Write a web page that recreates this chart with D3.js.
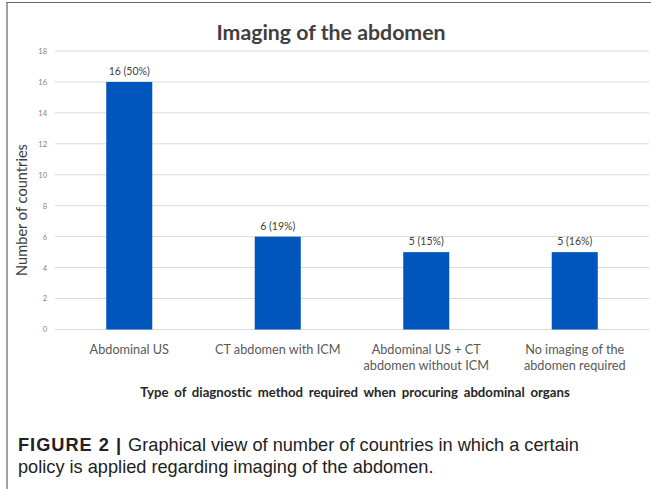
<!DOCTYPE html>
<html><head><meta charset="utf-8">
<script src="https://cdn.jsdelivr.net/npm/d3@7"></script>
<style>body{margin:0;background:#fff}svg{display:block}</style>
</head><body>
<script>
const categories = [["Abdominal US"], ["CT abdomen with ICM"], ["Abdominal US + CT", "abdomen without ICM"], ["No imaging of the", "abdomen required"]];
const values = [16, 6, 5, 5];
const valueLabels = ["16 (50%)", "6 (19%)", "5 (15%)", "5 (16%)"];
const yTicks = [0, 2, 4, 6, 8, 10, 12, 14, 16, 18];

const W = 651, H = 489;
const svg = d3.select("body").append("svg").attr("width", W).attr("height", H);
const font = "Lato, 'Open Sans', sans-serif";

// frame
svg.append("line").attr("x1", 7).attr("x2", 7).attr("y1", 2).attr("y2", H).attr("stroke", "#666").attr("stroke-width", 1.2);
svg.append("line").attr("x1", 7).attr("x2", W).attr("y1", 2.5).attr("y2", 2.5).attr("stroke", "#666").attr("stroke-width", 1.2);

const x = d3.scaleBand().domain(d3.range(categories.length)).range([55, 649]).paddingInner(0.69).paddingOuter(0.345);
const y = d3.scaleLinear().domain([0, 18]).range([329.5, 51]);

// gridlines
svg.append("g").selectAll("line").data(yTicks).join("line")
  .attr("x1", 55).attr("x2", 649).attr("y1", d => y(d)).attr("y2", d => y(d))
  .attr("stroke", "#d9d9d9").attr("stroke-width", 1);

// y axis labels
const yAxis = d3.axisLeft(y).tickValues(yTicks).tickSize(0).tickPadding(0);
const gy = svg.append("g").attr("transform", "translate(47,0)").call(yAxis);
gy.select(".domain").remove();
gy.selectAll("text").attr("font-family", font).attr("font-size", 7.5).attr("fill", "#7f7f7f");

// bars
svg.append("g").selectAll("rect").data(values).join("rect")
  .attr("x", (d, i) => x(i)).attr("width", x.bandwidth())
  .attr("y", d => y(d)).attr("height", d => y(0) - y(d))
  .attr("fill", "#0056bd");

// value labels
svg.append("g").selectAll("text").data(values).join("text")
  .attr("x", (d, i) => x(i) + x.bandwidth() / 2).attr("y", d => y(d) - 7)
  .attr("text-anchor", "middle").attr("font-family", font).attr("font-size", 10.5)
  .attr("fill", "#404040").text((d, i) => valueLabels[i]);

// category labels
const xAxis = d3.axisBottom(x).tickSize(0).tickFormat(() => "");
const gx = svg.append("g").attr("transform", "translate(0,329.5)").call(xAxis);
gx.select(".domain").remove();
gx.selectAll(".tick").each(function(d) {
  const t = d3.select(this).append("text").attr("text-anchor", "middle")
    .attr("font-family", font).attr("font-size", 12.7).attr("fill", "#595959");
  categories[d].forEach((line, k) => t.append("tspan").attr("x", 0).attr("y", 24 + k * 16).text(line));
});

// title
svg.append("text").attr("x", 331).attr("y", 40).attr("text-anchor", "middle")
  .attr("font-family", font).attr("font-size", 21.3).attr("font-weight", "bold").attr("fill", "#404040")
  .text("Imaging of the abdomen");

// axis titles
svg.append("text").attr("x", 355).attr("y", 397).attr("text-anchor", "middle")
  .attr("font-family", font).attr("font-size", 13.2).attr("font-weight", "bold").attr("fill", "#262626")
  .attr("word-spacing", 2.5)
  .text("Type of diagnostic method required when procuring abdominal organs");
svg.append("text").attr("transform", "translate(27,210) rotate(-90)").attr("text-anchor", "middle")
  .attr("font-family", font).attr("font-size", 14.6).attr("fill", "#404040")
  .text("Number of countries");

// caption
const cap = svg.append("text").attr("font-family", "'Liberation Sans', Arial, sans-serif").attr("font-size", 18.2).attr("fill", "#222");
const l1 = cap.append("tspan").attr("x", 18).attr("y", 451);
l1.append("tspan").attr("font-weight", "bold").attr("letter-spacing", 1).text("FIGURE 2 | ");
l1.append("tspan").text("Graphical view of number of countries in which a certain");
cap.append("tspan").attr("x", 18).attr("y", 473).text("policy is applied regarding imaging of the abdomen.");
</script>
</body></html>
